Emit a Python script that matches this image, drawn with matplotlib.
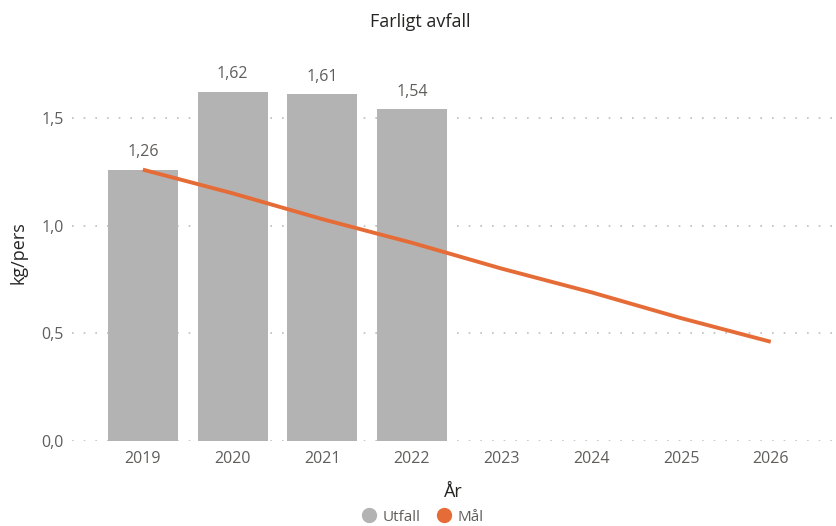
import matplotlib
matplotlib.use('Agg')
import matplotlib.pyplot as plt
from matplotlib.ticker import FuncFormatter
from matplotlib.lines import Line2D

plt.rcParams['font.family'] = ['Open Sans', 'DejaVu Sans']

years = ['2019', '2020', '2021', '2022', '2023', '2024', '2025', '2026']
utfall = [1.26, 1.62, 1.61, 1.54]
maal = [1.26, 1.15, 1.03, 0.92, 0.80, 0.69, 0.57, 0.46]

bar_color = '#B3B3B3'
line_color = '#E66C37'
tick_color = '#605E5C'

fig = plt.figure(figsize=(8.37, 5.26), dpi=100)
ax = fig.add_axes([0.086, 0.162, 0.912, 0.716])

x = list(range(len(years)))
bars = ax.bar(x[:len(utfall)], utfall, width=0.78, color=bar_color, zorder=2)
for xi, v in zip(x, utfall):
    ax.text(xi, v + 0.045, f'{v:.2f}'.replace('.', ','), ha='center', va='bottom',
            fontsize=11.5, color=tick_color)
ax.plot(x, maal, color=line_color, linewidth=2.8, zorder=3, solid_capstyle='butt')

ax.set_xlim(-0.79, 7.72)
ax.set_ylim(0, 1.75)
ax.set_yticks([0, 0.5, 1.0, 1.5])
ax.yaxis.set_major_formatter(FuncFormatter(lambda v, p: f'{v:.1f}'.replace('.', ',')))
ax.set_xticks(x)
ax.set_xticklabels(years)
ax.tick_params(axis='both', length=0, labelsize=11.5, labelcolor=tick_color)
ax.tick_params(axis='x', pad=7)
ax.tick_params(axis='y', pad=6)
ax.grid(axis='y', linestyle=(0, (1, 6)), color='#BDBDBD', linewidth=1.2, zorder=0)
for s in ax.spines.values():
    s.set_visible(False)

ax.set_ylabel('kg/pers', fontsize=13, color='#252423', labelpad=10)
ax.set_xlabel('År', fontsize=13, color='#252423', labelpad=12)
fig.text(0.502, 0.958, 'Farligt avfall', ha='center', va='center', fontsize=13, color='#252423')

handles = [Line2D([], [], marker='o', linestyle='', markersize=10, color=bar_color),
           Line2D([], [], marker='o', linestyle='', markersize=10, color=line_color)]
fig.legend(handles, ['Utfall', 'Mål'], loc='center', bbox_to_anchor=(0.5, 0.017), ncol=2,
           frameon=False, fontsize=11, labelcolor=tick_color, handletextpad=-0.1,
           columnspacing=0.5, borderpad=0)

fig.savefig('out.png', dpi=100)
